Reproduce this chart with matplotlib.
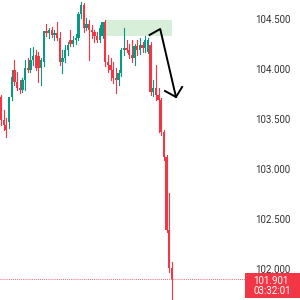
import numpy as np
import matplotlib.pyplot as plt
from matplotlib.patches import Rectangle

# candle data (price)
opens = [103.72, 103.49, 103.44, 103.47, 103.72, 103.99, 103.87, 103.81, 103.79, 103.89,
         104.01, 103.99, 104.09, 104.14, 104.13, 104.01, 104.07, 104.38, 104.36, 104.39,
         104.34, 104.36, 104.31, 104.07, 104.11, 104.19, 104.29, 104.25, 104.29, 104.31,
         104.55, 104.64, 104.41, 104.45, 104.39, 104.37, 104.33, 104.29, 104.33, 104.47,
         104.07, 104.04, 103.99, 103.91, 103.89, 103.96, 104.19, 104.21, 104.19, 104.14,
         104.11, 104.23, 104.19, 104.24, 104.21, 104.17, 104.24, 103.77, 103.81, 103.74,
         103.69, 103.37, 103.12, 102.39, 102.01]
highs = [103.74, 103.59, 103.51, 103.51, 103.99, 104.09, 103.97, 103.89, 103.91, 104.09,
         104.11, 104.21, 104.22, 104.19, 104.17, 104.11, 104.14, 104.45, 104.41, 104.42,
         104.39, 104.47, 104.37, 104.19, 104.24, 104.27, 104.39, 104.33, 104.35, 104.57,
         104.67, 104.66, 104.51, 104.49, 104.44, 104.39, 104.37, 104.44, 104.47, 104.49,
         104.14, 104.11, 104.07, 104.01, 103.99, 104.21, 104.41, 104.29, 104.25, 104.29,
         104.25, 104.29, 104.31, 104.27, 104.33, 104.31, 104.27, 103.89, 104.04, 103.81,
         103.71, 103.39, 103.14, 102.76, 102.07]
lows = [103.44, 103.39, 103.32, 103.41, 103.69, 103.84, 103.79, 103.76, 103.77, 103.79,
        103.97, 103.97, 104.04, 103.99, 103.87, 103.84, 104.03, 104.33, 104.31, 104.32,
        104.29, 104.29, 104.04, 103.96, 104.07, 104.14, 104.23, 104.23, 104.25, 104.29,
        104.51, 104.37, 104.39, 104.09, 104.31, 104.27, 104.27, 104.27, 104.31, 104.03,
        103.97, 103.89, 103.86, 103.76, 103.84, 103.93, 104.14, 104.17, 104.11, 104.07,
        104.04, 104.14, 104.15, 104.17, 104.17, 104.16, 103.74, 103.73, 103.69, 103.37,
        103.34, 103.09, 102.37, 101.97, 101.69]
closes = [103.49, 103.44, 103.39, 103.72, 103.92, 103.87, 103.81, 103.79, 103.89, 104.01,
          103.99, 104.09, 104.13, 104.01, 104.01, 104.09, 104.38, 104.36, 104.39, 104.34,
          104.36, 104.31, 104.07, 104.11, 104.19, 104.24, 104.25, 104.29, 104.31, 104.55,
          104.64, 104.41, 104.45, 104.39, 104.37, 104.33, 104.29, 104.41, 104.47, 104.07,
          104.04, 103.99, 103.91, 103.89, 103.96, 104.19, 104.21, 104.19, 104.14, 104.11,
          104.23, 104.19, 104.24, 104.21, 104.29, 104.29, 103.77, 103.81, 103.74, 103.69,
          103.37, 103.12, 102.39, 102.01, 101.90]

yticks = [102.0, 102.5, 103.0, 103.5, 104.0, 104.5]
last_price = 101.901
last_time = '03:32:01'

# supply zone and drawn arrow (candle index, price)
zone_x = [39.2, 64]
zone_y = [104.33, 104.49]
arrow_x = [55.6, 59.6, 65.5]
arrow_y = [104.34, 104.40, 103.72]
head_x = [61.4, 65.5, 67.8]
head_y = [103.78, 103.72, 103.82]

UP = '#089981'
DOWN = '#f23645'

fig = plt.figure(figsize=(3, 3), dpi=100)
ax = fig.add_axes([0, 0, 0.827, 1])

ax.add_patch(Rectangle((zone_x[0], zone_y[0]), zone_x[1] - zone_x[0], zone_y[1] - zone_y[0],
                       color='#d7eed9', zorder=0, lw=0))

for i in range(len(opens)):
    c = UP if closes[i] >= opens[i] else DOWN
    ax.plot([i, i], [lows[i], highs[i]], color=c, lw=0.8, zorder=2)
    lo = min(opens[i], closes[i])
    h = max(abs(closes[i] - opens[i]), 0.01)
    ax.add_patch(Rectangle((i - 0.43, lo), 0.86, h, color=c, lw=0, zorder=3))

ax.plot(arrow_x, arrow_y, color='black', lw=1.4, zorder=4)
ax.plot(head_x, head_y, color='black', lw=1.4, zorder=4)

ax.axhline(last_price, color=DOWN, lw=0.6, ls=(0, (1, 1.5)), zorder=1)

ax.set_xlim(-0.375, 92.5)
ax.set_ylim(101.69, 104.69)
ax.set_yticks(yticks)
ax.set_yticklabels(['%.3f' % t for t in yticks])
ax.yaxis.tick_right()
ax.tick_params(axis='y', length=0, pad=5, labelsize=7, labelcolor='#333333')
ax.set_xticks([])
for s in ax.spines.values():
    s.set_visible(False)
for lab in ax.get_yticklabels():
    lab.set_fontfamily('Roboto')

fig.patches.append(Rectangle((245 / 300, 2 / 300), 55 / 300, 25 / 300,
                             transform=fig.transFigure, color=DOWN, lw=0, zorder=5))
fig.text(253 / 300, 1 - 281 / 300, '%.3f' % last_price, color='white', fontsize=7,
         family='Roboto', va='center', ha='left', zorder=6)
fig.text(253 / 300, 1 - 291.5 / 300, last_time, color='white', fontsize=7,
         family='Roboto', va='center', ha='left', zorder=6)

fig.savefig('out.png', dpi=100, facecolor='white')
